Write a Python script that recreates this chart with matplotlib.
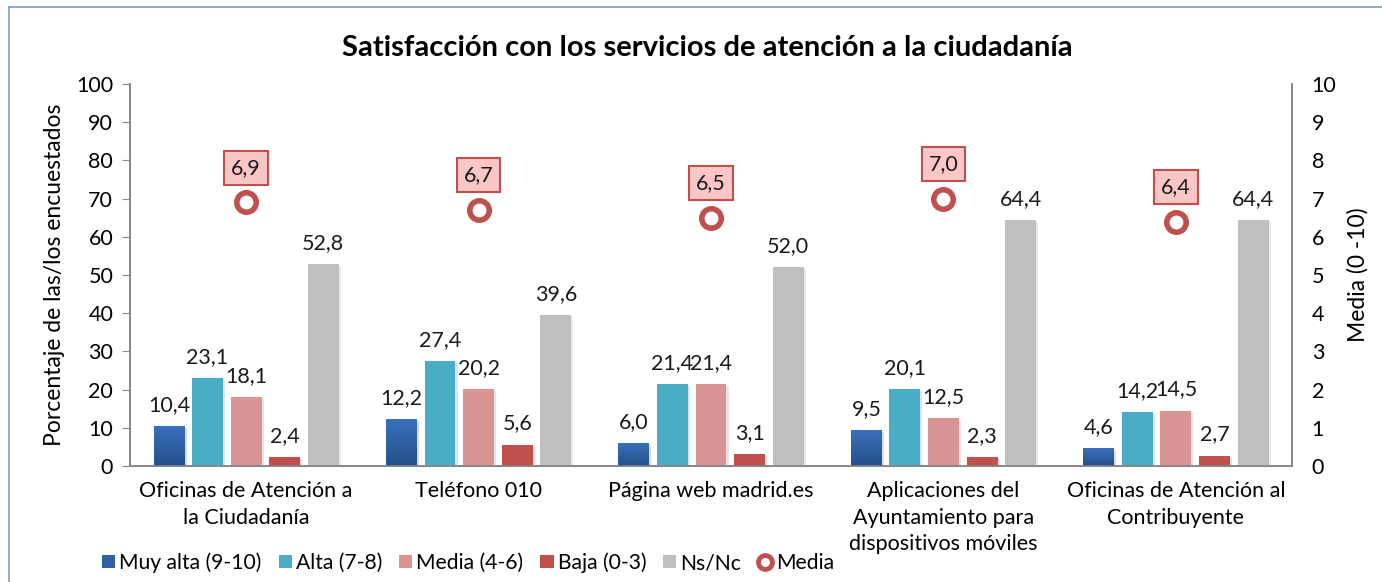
import matplotlib
matplotlib.use("Agg")
import matplotlib.pyplot as plt
import numpy as np
from matplotlib.lines import Line2D
from matplotlib.patches import Patch
import matplotlib.patheffects as pe
from matplotlib.colors import LinearSegmentedColormap

plt.rcParams['font.family'] = ['Lato', 'DejaVu Sans']

categories = ["Oficinas de Atención a\nla Ciudadanía", "Teléfono 010", "Página web madrid.es",
              "Aplicaciones del\nAyuntamiento para\ndispositivos móviles",
              "Oficinas de Atención al\nContribuyente"]
series_names = ["Muy alta (9-10)", "Alta (7-8)", "Media (4-6)", "Baja (0-3)", "Ns/Nc"]
muy_alta = [10.4, 12.2, 6.0, 9.5, 4.6]
alta = [23.1, 27.4, 21.4, 20.1, 14.2]
media_46 = [18.1, 20.2, 21.4, 12.5, 14.5]
baja = [2.4, 5.6, 3.1, 2.3, 2.7]
nsnc = [52.8, 39.6, 52.0, 64.4, 64.4]
media = [6.9, 6.7, 6.5, 7.0, 6.4]

colors = ["#2f62a4", "#4bacc6", "#d99594", "#c0504d", "#bfbfbf"]

fig = plt.figure(figsize=(13.82, 5.82), dpi=100)
ax = fig.add_axes([0.094, 0.1993, 0.841, 0.6564])
ax2 = ax.twinx()

x = np.arange(len(categories))
w = 0.133
step = 0.166
shadow = [pe.SimplePatchShadow(offset=(1.5, -1.5), alpha=0.18, rho=0.7), pe.Normal()]
blue_cmap = LinearSegmentedColormap.from_list("bl", ["#23508a", "#3a70bc"])
fs = 15.5
for i, (vals, c) in enumerate(zip([muy_alta, alta, media_46, baja, nsnc], colors)):
    pos = x + (i - 2) * step
    bars = ax.bar(pos, vals, width=w, color=c, zorder=3)
    for b, v in zip(bars, vals):
        b.set_path_effects(shadow)
        if i == 0:
            x0, x1 = b.get_x(), b.get_x() + b.get_width()
            im = ax.imshow(np.linspace(0, 1, 64).reshape(-1, 1), cmap=blue_cmap, origin='lower',
                           extent=[x0, x1, 0, v], aspect='auto', zorder=3.5)
            im.set_clip_path(b)
        ax.annotate(f"{v:.1f}".replace('.', ','), (b.get_x() + b.get_width() / 2, v),
                    xytext=(0, 8), textcoords='offset points', ha='center', va='bottom',
                    fontsize=fs, color='#1a1a1a')

ax.set_xlim(-0.5, len(categories) - 0.5)
ax.set_ylim(0, 100)
ax.set_yticks(range(0, 101, 10))
ax2.set_ylim(0, 10)
ax2.set_yticks(range(0, 11))

ax2.plot(x, media, linestyle='none', marker='o', markersize=14, markerfacecolor='white',
         markeredgecolor='#c0504d', markeredgewidth=4, zorder=5)
for xi, m in zip(x, media):
    ax2.annotate(f"{m:.1f}".replace('.', ','), (xi, m), xytext=(0, 25), textcoords='offset points',
                 ha='center', va='center', fontsize=fs, color='#1a1a1a',
                 bbox=dict(boxstyle='square,pad=0.32', fc='#fbc6c6', ec='#c0504d', lw=1.5))

ax.set_xticks(x)
ax.set_xticklabels(categories, fontsize=fs, linespacing=1.4)
ax.tick_params(axis='x', length=0, pad=11)
ax.tick_params(axis='y', labelsize=fs, color='#868686', length=6, pad=6)
ax2.tick_params(axis='y', labelsize=fs, length=0, pad=14)

for a in (ax, ax2):
    a.spines['top'].set_visible(False)
    for s in ('left', 'right', 'bottom'):
        a.spines[s].set_color('#868686')
        a.spines[s].set_linewidth(1.2)

ax.set_ylabel("Porcentaje de las/los encuestados", fontsize=16.5, labelpad=8)
ax2.set_ylabel("Media (0 -10)", fontsize=16.5, labelpad=8)

fig.text(0.512, 0.918, "Satisfacción con los servicios de atención a la ciudadanía",
         ha='center', va='center', fontsize=21, fontweight='bold')

handles = [Patch(facecolor=c, edgecolor='none') for c in colors]
handles.append(Line2D([], [], linestyle='none', marker='o', markersize=10, markerfacecolor='white',
                      markeredgecolor='#c0504d', markeredgewidth=3.5))
fig.legend(handles, series_names + ["Media"], loc='center left', bbox_to_anchor=(0.0738, 0.033),
           ncol=6, frameon=False, fontsize=15.2, handlelength=0.62, handleheight=0.62,
           handletextpad=0.2, columnspacing=0.8, borderaxespad=0, borderpad=0)

fig.add_artist(Line2D([9 / 1382, 9 / 1382], [0, 1 - 7 / 582], color='#7f9cc4', lw=1.2))
fig.add_artist(Line2D([9 / 1382, 1], [1 - 7 / 582, 1 - 7 / 582], color='#7f9cc4', lw=1.2))

fig.savefig("out.png", dpi=100)
